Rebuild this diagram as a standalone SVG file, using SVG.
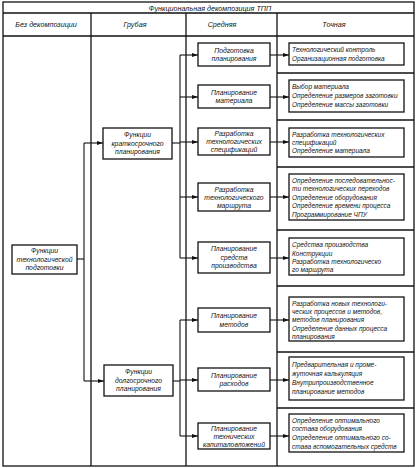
<svg xmlns="http://www.w3.org/2000/svg" width="417" height="468" viewBox="0 0 417 468">
<defs>
<marker id="ar" markerWidth="6" markerHeight="4" refX="6" refY="2" orient="auto" markerUnits="userSpaceOnUse">
<path d="M0,0 L6,2 L0,4 Z" fill="#111"/>
</marker>
<style>
.t{font-family:"Liberation Sans",Arial,sans-serif;font-style:italic;font-size:6.8px;fill:#111}
.c{text-anchor:middle}
.h{font-size:7.2px}
.r{font-size:6.5px}
.box{fill:#fff;stroke:#111;stroke-width:1.3}
.grid{stroke:#111;stroke-width:1.3;fill:none}
.ln{stroke:#111;stroke-width:1.1;fill:none}
.arr{stroke:#111;stroke-width:1.1;fill:none;marker-end:url(#ar)}
</style>
</defs>
<rect width="417" height="468" fill="#fff"/>
<g id="frame">
<rect x="3" y="2" width="411" height="464" class="grid"/>
<line x1="3" y1="13" x2="414" y2="13" class="grid"/>
<line x1="3" y1="36" x2="414" y2="36" class="grid"/>
<line x1="91" y1="13" x2="91" y2="466" class="grid"/>
<line x1="186" y1="13" x2="186" y2="466" class="grid"/>
<line x1="277" y1="13" x2="277" y2="466" class="grid"/>
<line x1="277" y1="73" x2="414" y2="73" class="grid"/>
<line x1="277" y1="120" x2="414" y2="120" class="grid"/>
<line x1="277" y1="167" x2="414" y2="167" class="grid"/>
<line x1="277" y1="230" x2="414" y2="230" class="grid"/>
<line x1="277" y1="286" x2="414" y2="286" class="grid"/>
<line x1="277" y1="352" x2="414" y2="352" class="grid"/>
<line x1="277" y1="408" x2="414" y2="408" class="grid"/>
<text x="210" y="10.5" class="t c h">Функциональная декомпозиция ТПП</text>
<text x="46" y="27" class="t c h">Без декомпозиции</text>
<text x="135" y="27" class="t c h">Грубая</text>
<text x="222" y="27" class="t c h">Средняя</text>
<text x="334" y="27" class="t c h">Точная</text>
</g>
<g id="connectors">
<line x1="77" y1="259" x2="84" y2="259" class="ln"/>
<line x1="84" y1="143" x2="84" y2="381" class="ln"/>
<line x1="84" y1="143" x2="103" y2="143" class="arr"/>
<line x1="84" y1="381" x2="104" y2="381" class="arr"/>
<line x1="172" y1="143" x2="180" y2="143" class="ln"/>
<line x1="180" y1="55" x2="180" y2="258" class="ln"/>
<line x1="180" y1="55" x2="198" y2="55" class="arr"/>
<line x1="180" y1="97" x2="198" y2="97" class="arr"/>
<line x1="180" y1="142" x2="198" y2="142" class="arr"/>
<line x1="180" y1="197" x2="198" y2="197" class="arr"/>
<line x1="180" y1="258" x2="198" y2="258" class="arr"/>
<line x1="173" y1="381" x2="180" y2="381" class="ln"/>
<line x1="180" y1="320" x2="180" y2="436" class="ln"/>
<line x1="180" y1="320" x2="198" y2="320" class="arr"/>
<line x1="180" y1="380" x2="198" y2="380" class="arr"/>
<line x1="180" y1="436" x2="198" y2="436" class="arr"/>
<line x1="270" y1="55" x2="289" y2="55" class="arr"/>
<line x1="270" y1="97" x2="289" y2="97" class="arr"/>
<line x1="270" y1="142" x2="289" y2="142" class="arr"/>
<line x1="270" y1="197" x2="289" y2="197" class="arr"/>
<line x1="270" y1="258" x2="289" y2="258" class="arr"/>
<line x1="270" y1="320" x2="289" y2="320" class="arr"/>
<line x1="270" y1="380" x2="289" y2="380" class="arr"/>
<line x1="270" y1="436" x2="289" y2="436" class="arr"/>
</g>
<g id="n-root">
<rect x="12" y="245" width="65" height="29" class="box"/>
<text x="44.5" y="253" class="t c">Функции</text>
<text x="44.5" y="261.5" class="t c">технологической</text>
<text x="44.5" y="270" class="t c">подготовки</text>
</g>
<g id="n-short">
<rect x="103" y="128" width="69" height="31" class="box"/>
<text x="137.5" y="137" class="t c">Функции</text>
<text x="137.5" y="145.5" class="t c">краткосрочного</text>
<text x="137.5" y="154" class="t c">планирования</text>
</g>
<g id="n-long">
<rect x="104" y="365" width="69" height="31" class="box"/>
<text x="138.5" y="374" class="t c">Функции</text>
<text x="138.5" y="382.5" class="t c">долгосрочного</text>
<text x="138.5" y="391" class="t c">планирования</text>
</g>
<g id="m1">
<rect x="198" y="43" width="72" height="23" class="box"/>
<text x="234" y="52.5" class="t c">Подготовка</text>
<text x="234" y="61" class="t c">планирования</text>
</g>
<g id="m2">
<rect x="198" y="85" width="72" height="23" class="box"/>
<text x="234" y="94.5" class="t c">Планирование</text>
<text x="234" y="103" class="t c">материала</text>
</g>
<g id="m3">
<rect x="198" y="128" width="72" height="27" class="box"/>
<text x="234" y="136" class="t c">Разработка</text>
<text x="234" y="144" class="t c">технологических</text>
<text x="234" y="152" class="t c">спецификаций</text>
</g>
<g id="m4">
<rect x="198" y="183" width="72" height="28" class="box"/>
<text x="234" y="191.5" class="t c">Разработка</text>
<text x="234" y="199.5" class="t c">технологического</text>
<text x="234" y="207.5" class="t c">маршрута</text>
</g>
<g id="m5">
<rect x="198" y="242" width="72" height="31" class="box"/>
<text x="234" y="251" class="t c">Планирование</text>
<text x="234" y="259.5" class="t c">средств</text>
<text x="234" y="268" class="t c">производства</text>
</g>
<g id="m6">
<rect x="198" y="308" width="72" height="24" class="box"/>
<text x="234" y="318" class="t c">Планирование</text>
<text x="234" y="326.5" class="t c">методов</text>
</g>
<g id="m7">
<rect x="198" y="368" width="72" height="23" class="box"/>
<text x="234" y="377.5" class="t c">Планирование</text>
<text x="234" y="386" class="t c">расходов</text>
</g>
<g id="m8">
<rect x="198" y="423" width="72" height="26" class="box"/>
<text x="234" y="431" class="t c">Планирование</text>
<text x="234" y="439" class="t c">технических</text>
<text x="234" y="447" class="t c">капиталовложений</text>
</g>
<g id="r1">
<rect x="289" y="43" width="115" height="22" class="box"/>
<text x="292" y="52" class="t r">Технологический контроль</text>
<text x="292" y="61" class="t r">Организационная подготовка</text>
</g>
<g id="r2">
<rect x="289" y="80" width="115" height="32" class="box"/>
<text x="292" y="88.5" class="t r">Выбор материала</text>
<text x="292" y="97.5" class="t r">Определение размеров заготовки</text>
<text x="292" y="106.5" class="t r">Определение массы заготовки</text>
</g>
<g id="r3">
<rect x="289" y="128" width="115" height="29" class="box"/>
<text x="292" y="136.5" class="t r">Разработка технологических</text>
<text x="292" y="144.5" class="t r">спецификаций</text>
<text x="292" y="153" class="t r">Определение материала</text>
</g>
<g id="r4">
<rect x="289" y="174" width="115" height="46" class="box"/>
<text x="292" y="182.5" class="t r">Определение последовательнос-</text>
<text x="292" y="191" class="t r">ти технологических переходов</text>
<text x="292" y="199.5" class="t r">Определение оборудования</text>
<text x="292" y="208" class="t r">Определение времени процесса</text>
<text x="292" y="216.5" class="t r">Программирование ЧПУ</text>
</g>
<g id="r5">
<rect x="289" y="238" width="115" height="37" class="box"/>
<text x="292" y="247" class="t r">Средства производства</text>
<text x="292" y="255.5" class="t r">Конструкции</text>
<text x="292" y="264" class="t r">Разработка технологическо</text>
<text x="292" y="272" class="t r">го маршрута</text>
</g>
<g id="r6">
<rect x="289" y="297" width="115" height="44" class="box"/>
<text x="292" y="305.5" class="t r">Разработка новых технологи-</text>
<text x="292" y="314" class="t r">ческих процессов и методов,</text>
<text x="292" y="322" class="t r">методов планирования</text>
<text x="292" y="330.5" class="t r">Определение данных процесса</text>
<text x="292" y="338.5" class="t r">планирования</text>
</g>
<g id="r7">
<rect x="289" y="357" width="115" height="43" class="box"/>
<text x="292" y="366.5" class="t r">Предварительная и проме-</text>
<text x="292" y="375.5" class="t r">жуточная калькуляция</text>
<text x="292" y="384.5" class="t r">Внутрипроизводственное</text>
<text x="292" y="393.5" class="t r">планирование методов</text>
</g>
<g id="r8">
<rect x="289" y="414" width="115" height="38" class="box"/>
<text x="292" y="422.5" class="t r">Определение оптимального</text>
<text x="292" y="431" class="t r">состава оборудования</text>
<text x="292" y="440" class="t r">Определение оптимального со-</text>
<text x="292" y="448.5" class="t r">става вспомогательных средств</text>
</g>
</svg>
